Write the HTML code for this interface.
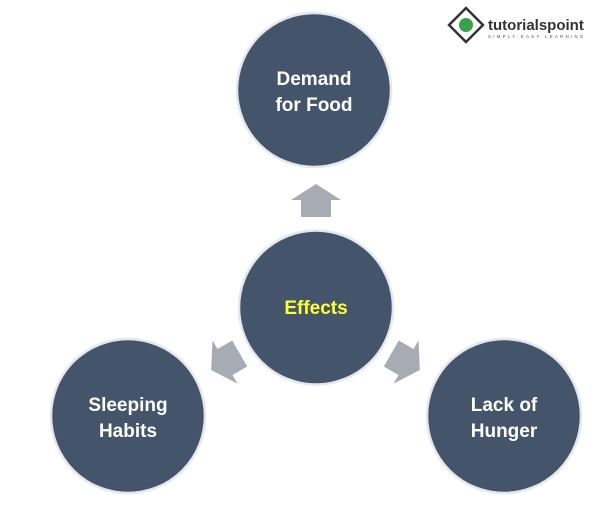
<!DOCTYPE html>
<html><head><style>
body{margin:0;background:#fff;width:600px;height:504px;overflow:hidden}
text{font-family:"Liberation Sans",sans-serif;font-weight:bold}
</style></head><body>
<svg width="600" height="504" viewBox="0 0 600 504">
<defs>
<g id="arr"><polygon points="0,-16 25,0 15,0 15,17 -15,17 -15,0 -25,0" fill="#a7abb3"/></g>
</defs>
<g fill="#44546a" stroke="#e3e7ee" stroke-width="2.5">
<circle cx="314" cy="90" r="77"/>
<circle cx="316" cy="307.5" r="77"/>
<circle cx="128" cy="416" r="77"/>
<circle cx="504" cy="416" r="77"/>
</g>
<use href="#arr" transform="translate(316,200)"/>
<use href="#arr" transform="translate(225,362) rotate(-120)"/>
<use href="#arr" transform="translate(406,362) rotate(120)"/>
<g fill="#fff" font-size="19" text-anchor="middle">
<text x="314" y="85">Demand</text>
<text x="314" y="111">for Food</text>
<text x="128" y="411">Sleeping</text>
<text x="128" y="437">Habits</text>
<text x="504" y="411">Lack of</text>
<text x="504" y="437">Hunger</text>
</g>
<text x="316" y="314" fill="#ffff33" font-size="19" text-anchor="middle">Effects</text>
<g transform="translate(466,25)">
<rect x="-12" y="-12" width="24" height="24" transform="rotate(45)" fill="#fff" stroke="#333" stroke-width="2.5"/>
<circle cx="0" cy="0" r="7" fill="#3aa04a"/>
</g>
<text x="488" y="30" font-size="15" fill="#333">tutorialspoint</text>
<text x="488" y="38" font-size="4.5" fill="#555" letter-spacing="2.2" style="font-weight:normal">SIMPLY EASY LEARNING</text>
</svg>
</body></html>
